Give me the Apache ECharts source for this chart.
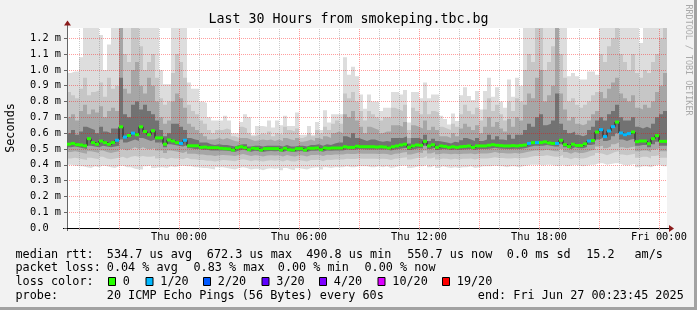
<!DOCTYPE html>
<html><head><meta charset="utf-8">
<script src="https://cdn.jsdelivr.net/npm/echarts@6/dist/echarts.min.js"></script>
<style>html,body{margin:0;padding:0;background:#f2f2f2}#c{width:697px;height:310px}</style>
</head><body><div id="c"></div>
<script>
// time axis in hours relative to Thu 00:00; 12-minute bins from Wed 18:24 to Fri 00:24
const startHour = -5.6;
const endHour = 24.4;
const binHours = 0.2;

// median rtt (ms) per bin
const median = [
 0.530,0.535,0.527,0.525,0.520,0.565,0.540,0.530,0.550,0.540,0.530,0.540,0.555,
 0.640,0.575,0.585,0.600,0.590,0.640,0.610,0.590,0.615,0.570,
 0.570,0.530,0.557,0.550,0.540,0.535,0.555,
 0.520,0.520,0.520,0.510,0.512,0.508,0.508,0.508,
 0.504,0.502,0.500,0.493,0.508,0.514,0.508,0.495,0.504,0.502,0.493,0.502,0.502,0.502,0.502,0.493,0.504,0.495,0.493,0.502,0.502,0.493,0.504,0.504,0.506,0.495,0.506,0.504,0.506,0.506,0.506,0.514,0.510,0.510,0.517,0.514,0.514,
 0.514,0.514,0.512,0.514,0.512,0.506,0.514,0.519,0.525,0.530,0.510,0.519,0.525,0.523,0.548,0.519,0.527,0.510,0.519,0.516,0.510,0.514,0.510,0.514,0.516,0.519,0.510,0.519,0.519,0.519,0.523,0.527,0.523,0.521,0.519,0.519,0.521,0.519,
 0.522,0.525,0.535,0.540,0.540,0.540,0.545,0.538,0.535,0.535,0.555,0.527,
 0.515,0.530,0.522,0.522,0.532,0.550,0.553,0.607,
 0.622,0.578,0.614,0.641,0.670,0.601,0.590,0.597,0.607,0.546,0.550,0.550,0.533,0.565,0.584,0.548,0.548
];
// lost pings (out of 20) per bin
const loss = [
 0,0,0,0,0,0,0,0,0,0,0,0,1,0,1,0,1,0,0,0,0,0,0,0,0,0,0,0,1,1,
 0,0,0,0,0,0,0,0,0,0,0,0,0,0,0,0,0,0,0,0,0,0,0,0,0,0,0,0,0,0,
 0,0,0,0,0,0,0,0,0,0,0,0,0,0,0,0,0,0,0,0,0,0,0,0,0,0,0,0,0,0,
 0,0,0,0,0,0,0,0,0,0,0,0,0,0,0,0,0,0,0,0,0,0,0,0,0,1,0,1,0,0,
 0,0,1,0,0,0,0,0,0,0,1,0,0,1,1,1,1,0,1,1,1,0,0,0,0,0,0,0,0,0
];
// smoke: ping distribution per bin (ms)
const maxV = [
 0.98,0.99,0.99,1.08,1.265,1.265,1.265,1.265,1.22,1.00,1.16,1.265,1.265,
 1.265,1.265,1.265,1.265,1.265,1.265,1.265,1.265,1.265,1.265,
 1.00,0.91,0.91,1.265,1.265,1.265,1.265,
 0.92,0.88,0.88,0.80,0.79,0.70,0.68,0.68,
 0.68,0.71,0.68,0.60,0.60,0.67,0.72,0.70,0.59,0.645,0.645,0.64,0.68,0.635,0.68,0.65,0.71,0.645,0.645,0.73,0.59,0.59,0.645,0.59,0.67,0.62,0.745,0.667,0.72,0.72,0.72,1.08,0.97,1.02,0.96,0.845,0.755,
 0.845,0.80,0.80,0.74,0.76,0.76,0.86,0.86,0.845,0.873,0.667,0.86,0.86,0.82,0.92,0.82,0.845,0.845,0.71,0.69,0.655,0.725,0.677,0.84,0.89,0.835,0.81,0.866,0.75,0.866,0.95,0.83,0.89,0.80,0.76,0.94,0.83,0.95,
 0.90,1.265,1.265,1.265,1.265,1.265,1.265,1.265,1.265,1.265,1.265,1.265,
 0.96,0.98,0.96,0.94,0.94,0.99,0.99,0.97,
 1.265,1.265,1.265,1.265,1.265,1.265,1.265,1.265,1.265,1.265,1.17,1.265,1.265,1.265,1.265,1.265,1.265
];
const p90 = [
 0.86,0.84,0.82,0.88,0.95,0.84,0.86,0.87,0.92,0.83,0.95,0.88,0.90,
 1.265,1.10,1.05,1.265,1.265,1.15,1.00,1.05,1.10,0.95,
 0.82,0.78,0.80,0.98,1.10,1.05,0.95,
 0.78,0.74,0.72,0.68,0.66,0.62,0.60,0.62,
 0.62,0.63,0.62,0.58,0.57,0.64,0.63,0.60,0.58,0.59,0.60,0.59,0.61,0.58,0.60,0.59,0.64,0.62,0.61,0.63,0.57,0.58,0.60,0.58,0.62,0.60,0.64,0.62,0.66,0.68,0.66,
 0.85,0.82,0.86,0.80,0.74,0.68,
 0.74,0.72,0.70,0.68,0.70,0.70,0.76,0.75,0.74,0.78,0.62,0.76,0.74,0.72,0.80,0.72,0.74,0.73,0.64,0.63,0.62,0.66,0.64,0.72,0.78,0.74,0.72,0.76,0.68,0.75,0.82,0.74,0.78,0.72,0.68,0.80,0.74,0.82,
 0.80,1.00,1.10,1.05,1.265,1.265,1.00,1.05,1.15,1.265,1.10,0.95,
 0.80,0.82,0.78,0.76,0.78,0.80,0.84,0.86,
 1.10,1.05,1.15,1.20,1.265,1.10,1.05,1.00,1.10,0.98,0.95,1.00,0.98,1.05,1.10,1.20,1.265
];
const p75 = [
 0.70,0.72,0.68,0.74,0.78,0.72,0.75,0.73,0.77,0.70,0.74,0.76,0.74,
 1.265,0.88,0.85,1.00,1.05,0.90,0.85,0.95,0.90,0.80,
 0.70,0.66,0.68,0.80,0.85,0.82,0.76,
 0.66,0.64,0.62,0.60,0.58,0.56,0.56,0.57,
 0.56,0.57,0.56,0.55,0.545,0.57,0.57,0.56,0.55,0.555,0.56,0.555,0.56,0.55,0.56,0.55,0.57,0.56,0.555,0.57,0.545,0.55,0.56,0.55,0.57,0.56,0.58,0.57,0.60,0.61,0.60,
 0.72,0.70,0.74,0.68,0.64,0.60,
 0.64,0.63,0.62,0.60,0.61,0.61,0.65,0.65,0.64,0.67,0.57,0.65,0.64,0.63,0.68,0.62,0.64,0.62,0.58,0.58,0.57,0.60,0.58,0.63,0.66,0.64,0.62,0.65,0.60,0.64,0.70,0.64,0.67,0.63,0.61,0.69,0.64,0.70,
 0.68,0.78,0.85,0.82,0.95,1.00,0.80,0.84,0.90,1.265,0.85,0.75,
 0.68,0.70,0.66,0.65,0.66,0.68,0.72,0.74,
 0.86,0.82,0.88,0.92,0.95,0.85,0.82,0.80,0.84,0.76,0.75,0.78,0.76,0.80,0.86,0.90,0.98
];
const p60 = [
 0.60,0.62,0.59,0.61,0.64,0.63,0.62,0.60,0.64,0.61,0.60,0.63,0.63,
 0.95,0.72,0.70,0.78,0.80,0.75,0.78,0.74,0.72,0.68,
 0.62,0.58,0.60,0.66,0.66,0.64,0.62,
 0.57,0.56,0.555,0.54,0.54,0.53,0.525,0.53,
 0.525,0.525,0.52,0.515,0.525,0.53,0.53,0.515,0.52,0.52,0.515,0.52,0.52,0.52,0.52,0.515,0.525,0.515,0.515,0.52,0.52,0.515,0.525,0.525,0.53,0.52,0.53,0.525,0.535,0.54,0.54,
 0.58,0.57,0.60,0.57,0.56,0.55,
 0.56,0.56,0.55,0.545,0.55,0.545,0.57,0.57,0.57,0.58,0.535,0.57,0.57,0.56,0.59,0.55,0.565,0.55,0.545,0.54,0.535,0.545,0.54,0.555,0.57,0.56,0.55,0.57,0.55,0.56,0.59,0.56,0.58,0.56,0.555,0.59,0.565,0.59,
 0.59,0.62,0.66,0.64,0.70,0.72,0.65,0.66,0.68,0.85,0.66,0.62,
 0.60,0.61,0.59,0.58,0.59,0.62,0.64,0.68,
 0.70,0.68,0.72,0.74,0.78,0.70,0.68,0.68,0.70,0.64,0.63,0.64,0.63,0.66,0.70,0.72,0.74
];
const p40 = [
 0.51,0.515,0.51,0.505,0.50,0.52,0.515,0.51,0.52,0.515,0.51,0.515,0.52,
 0.56,0.54,0.55,0.56,0.55,0.57,0.56,0.55,0.56,0.54,
 0.54,0.51,0.53,0.525,0.52,0.515,0.525,
 0.505,0.50,0.50,0.495,0.495,0.49,0.49,0.49,
 0.49,0.488,0.485,0.48,0.49,0.495,0.49,0.482,0.488,0.486,0.48,0.486,0.487,0.486,0.487,0.48,0.489,0.482,0.48,0.487,0.486,0.48,0.489,0.489,0.49,0.482,0.49,0.489,0.49,0.49,0.49,
 0.497,0.495,0.495,0.50,0.498,0.497,
 0.497,0.497,0.496,0.497,0.496,0.49,0.497,0.50,0.505,0.508,0.493,0.50,0.505,0.503,0.52,0.50,0.507,0.494,0.50,0.498,0.494,0.497,0.494,0.497,0.498,0.50,0.494,0.50,0.50,0.50,0.503,0.507,0.503,0.502,0.50,0.50,0.502,0.50,
 0.503,0.508,0.515,0.52,0.52,0.52,0.525,0.52,0.515,0.515,0.53,0.51,
 0.498,0.51,0.505,0.505,0.512,0.525,0.53,0.56,
 0.57,0.55,0.56,0.58,0.60,0.56,0.55,0.56,0.565,0.52,0.525,0.525,0.51,0.53,0.545,0.52,0.52
];
const p25 = [
 0.48,0.485,0.48,0.475,0.47,0.485,0.48,0.475,0.49,0.48,0.475,0.48,0.485,
 0.50,0.49,0.50,0.51,0.50,0.51,0.50,0.50,0.505,0.49,
 0.49,0.475,0.49,0.485,0.48,0.475,0.485,
 0.47,0.47,0.465,0.465,0.46,0.46,0.455,0.46,
 0.462,0.46,0.458,0.455,0.462,0.468,0.462,0.455,0.46,0.458,0.452,0.458,0.46,0.458,0.46,0.452,0.462,0.455,0.452,0.46,0.458,0.452,0.462,0.462,0.464,0.455,0.464,0.462,0.465,0.465,0.465,
 0.47,0.468,0.468,0.472,0.47,0.47,
 0.47,0.47,0.468,0.47,0.468,0.462,0.47,0.472,0.478,0.48,0.465,0.472,0.478,0.475,0.49,0.472,0.48,0.466,0.472,0.47,0.466,0.47,0.466,0.47,0.47,0.472,0.466,0.472,0.472,0.472,0.475,0.48,0.475,0.474,0.472,0.472,0.474,0.472,
 0.475,0.48,0.485,0.49,0.49,0.49,0.495,0.49,0.485,0.485,0.50,0.48,
 0.47,0.48,0.475,0.475,0.48,0.49,0.495,0.515,
 0.52,0.505,0.515,0.53,0.54,0.51,0.505,0.51,0.515,0.485,0.49,0.49,0.48,0.495,0.505,0.485,0.485
];
const p10 = [
 0.44,0.445,0.44,0.435,0.43,0.445,0.44,0.435,0.45,0.44,0.435,0.44,0.445,
 0.45,0.44,0.45,0.455,0.45,0.455,0.45,0.45,0.455,0.44,
 0.445,0.435,0.445,0.44,0.44,0.435,0.445,
 0.435,0.435,0.43,0.43,0.425,0.425,0.42,0.425,
 0.43,0.428,0.426,0.422,0.43,0.435,0.43,0.422,0.428,0.426,0.42,0.426,0.428,0.426,0.428,0.42,0.43,0.422,0.42,0.428,0.426,0.42,0.43,0.43,0.432,0.422,0.432,0.43,0.433,0.433,0.433,
 0.438,0.436,0.436,0.44,0.438,0.438,
 0.438,0.438,0.436,0.438,0.436,0.43,0.438,0.44,0.445,0.448,0.433,0.44,0.445,0.443,0.455,0.44,0.447,0.434,0.44,0.438,0.434,0.438,0.434,0.438,0.438,0.44,0.434,0.44,0.44,0.44,0.443,0.447,0.443,0.442,0.44,0.44,0.442,0.44,
 0.442,0.445,0.45,0.455,0.455,0.455,0.46,0.455,0.45,0.45,0.462,0.445,
 0.435,0.445,0.44,0.44,0.445,0.455,0.46,0.475,
 0.47,0.46,0.47,0.48,0.485,0.465,0.46,0.465,0.47,0.445,0.45,0.45,0.44,0.455,0.46,0.445,0.445
];
const minV = [
 0.40,0.395,0.39,0.39,0.385,0.38,0.39,0.385,0.395,0.39,0.385,0.38,0.39,
 0.395,0.385,0.385,0.375,0.37,0.37,0.39,0.395,0.38,0.385,
 0.385,0.38,0.39,0.385,0.39,0.395,0.39,
 0.39,0.385,0.385,0.38,0.38,0.375,0.37,0.385,
 0.385,0.38,0.375,0.37,0.38,0.385,0.38,0.37,0.375,0.375,0.365,0.375,0.378,0.375,0.378,0.365,0.38,0.37,0.365,0.378,0.375,0.37,0.38,0.382,0.385,0.37,0.385,0.38,0.385,0.385,0.385,
 0.39,0.385,0.385,0.39,0.39,0.39,
 0.385,0.385,0.39,0.385,0.39,0.38,0.385,0.39,0.395,0.395,0.38,0.385,0.39,0.39,0.40,0.385,0.395,0.38,0.39,0.385,0.38,0.385,0.38,0.385,0.385,0.39,0.38,0.385,0.39,0.39,0.39,0.395,0.39,0.39,0.385,0.39,0.39,0.385,
 0.39,0.395,0.40,0.40,0.40,0.395,0.40,0.40,0.395,0.39,0.40,0.39,
 0.395,0.40,0.395,0.39,0.395,0.40,0.40,0.41,
 0.41,0.40,0.405,0.41,0.41,0.40,0.395,0.40,0.405,0.385,0.39,0.39,0.385,0.395,0.40,0.39,0.39
];

// axis ticks and labels
const yMax = 1.265;
const yInterval = 0.1;
const xTickHours = [-5,-4,-3,-2,-1,0,1,2,3,4,5,6,7,8,9,10,11,12,13,14,15,16,17,18,19,20,21,22,23,24];
const xMajorHours = [-3,0,3,6,9,12,15,18,21,24];
const xLabelHours = [0,6,12,18,24];
const xLabelText = ['Thu 00:00','Thu 06:00','Thu 12:00','Thu 18:00','Fri 00:00'];

// legend text
const titleText = 'Last 30 Hours from smokeping.tbc.bg';
const rttStats = ['534.7 us avg','672.3 us max','490.8 us min','550.7 us now','0.0 ms sd','15.2','am/s'];
const lossStats = ['0.04 % avg','0.83 % max','0.00 % min','0.00 % now'];
const lossLabels = ['0','1/20','2/20','3/20','4/20','10/20','19/20'];
const lossLegendColors = ['#26ff00','#00b8ff','#0059ff','#5e00ff','#7e00ff','#dd00ff','#ff0000'];
const probeText = '20 ICMP Echo Pings (56 Bytes) every 60s';
const endText = 'end: Fri Jun 27 00:23:45 2025';

const MONO = "'DejaVu Sans Mono', monospace";
const RED_GRID = 'rgba(255,0,0,0.38)';
const GREY_GRID = 'rgba(128,128,128,0.40)';
const lossColorOf = n => n === 0 ? '#26ff00' : '#00b8ff';

function stepData(arr) {
  const d = arr.map((v, i) => [startHour + i * binHours, v]);
  d.push([endHour, arr[arr.length - 1]]);
  return d;
}

const layers = [
  [maxV, '#dddddd'], [p90, '#c6c6c6'], [p75, '#a6a6a6'], [p60, '#727272'],
  [p40, '#a6a6a6'], [p25, '#c6c6c6'], [p10, '#dddddd'], [minV, '#ffffff']
];
const series = layers.map(([arr, c]) => ({
  type: 'line', step: 'end', data: stepData(arr), symbol: 'none', showSymbol: false,
  lineStyle: { width: 0, opacity: 0 }, areaStyle: { color: c, opacity: 1 },
  silent: true, z: 2, clip: true
}));
// vertical grid lines (hourly grey, 3-hourly red), drawn over the smoke
const halfPx = 0.5 * (endHour - startHour) / 600;
series.push({
  type: 'line', data: [], silent: true, z: 6, symbol: 'none',
  markLine: {
    silent: true, symbol: ['none', 'none'], label: { show: false }, animation: false,
    emphasis: { disabled: true },
    data: xTickHours.map(h => ({
      xAxis: h + halfPx,
      lineStyle: { color: xMajorHours.indexOf(h) >= 0 ? RED_GRID : GREY_GRID, type: [1, 1], width: 1, opacity: 1 }
    }))
  }
});
series.push({
  type: 'line', step: 'end', data: stepData(median), symbol: 'none', showSymbol: false,
  lineStyle: { color: '#1e1e1e', width: 1 }, silent: true, z: 8
});
series.push({
  type: 'custom', z: 9, silent: true,
  data: median.map((v, i) => [startHour + i * binHours, startHour + (i + 1) * binHours, v, loss[i]]),
  encode: { x: [0, 1], y: 2 },
  renderItem(params, api) {
    const p0 = api.coord([api.value(0), api.value(2)]);
    const p1 = api.coord([api.value(1), api.value(2)]);
    return { type: 'rect', shape: { x: p0[0], y: p0[1] - 1.5, width: p1[0] - p0[0], height: 3 },
             style: { fill: lossColorOf(api.value(3)) } };
  }
});

// frame, axis extensions, arrows and texts
const g = [];
g.push({ type: 'rect', shape: { x: 0, y: 307, width: 697, height: 3 }, style: { fill: '#a2a2a2' } });
g.push({ type: 'rect', shape: { x: 694, y: 0, width: 3, height: 310 }, style: { fill: '#a2a2a2' } });
g.push({ type: 'line', shape: { x1: 67.5, y1: 28, x2: 67.5, y2: 23 }, style: { stroke: '#666', lineWidth: 1 } });
g.push({ type: 'line', shape: { x1: 67.5, y1: 228, x2: 67.5, y2: 231 }, style: { stroke: '#666', lineWidth: 1 } });
g.push({ type: 'polygon', shape: { points: [[64, 25.5], [71, 25.5], [67.5, 20.5]] }, style: { fill: '#8b1c1c' } });
g.push({ type: 'line', shape: { x1: 63, y1: 228.5, x2: 67, y2: 228.5 }, style: { stroke: '#000', lineWidth: 1 } });
g.push({ type: 'line', shape: { x1: 667, y1: 228.5, x2: 670, y2: 228.5 }, style: { stroke: '#000', lineWidth: 1 } });
g.push({ type: 'polygon', shape: { points: [[669, 225], [669, 232], [674, 228.5]] }, style: { fill: '#8b1c1c' } });
const txt = (text, x, y, size, extra) => Object.assign({ type: 'text', x, y, silent: true,
  style: Object.assign({ text, font: size + 'px ' + MONO, fill: '#000', align: 'left', verticalAlign: 'middle' }, (extra && extra.style) || {}) },
  extra && extra.rotation !== undefined ? { rotation: extra.rotation } : {});
g.push(txt(titleText, 348.5, 20, 13.3, { style: { align: 'center' } }));
g.push(txt('Seconds', 11, 128, 11.8, { rotation: Math.PI / 2, style: { align: 'center' } }));
g.push(txt('RRDTOOL / TOBI OETIKER', 688.5, 60, 8.4, { rotation: -Math.PI / 2, style: { align: 'center', fill: '#a9a9a9' } }));
// line 1
g.push(txt('median rtt:', 15.5, 254.5, 11.8));
const rttX = [106.8, 206.8, 306.2, 407.2, 506.8, 586.2, 634.5];
rttStats.forEach((s, i) => g.push(txt(s, rttX[i], 254.5, 11.8)));
// line 2
g.push(txt('packet loss:', 15.5, 268.3, 11.8));
const lossX = [106.8, 193.5, 277.8, 364.5];
lossStats.forEach((s, i) => g.push(txt(s, lossX[i], 268.3, 11.8)));
// line 3
g.push(txt('loss color:', 15.5, 281.7, 11.8));
const boxX = [108, 145.5, 203, 261.5, 319, 377.5, 442];
lossLabels.forEach((s, i) => {
  g.push({ type: 'rect', shape: { x: boxX[i] + 0.5, y: 277.5, width: 7, height: 8 },
           style: { fill: lossLegendColors[i], stroke: '#000', lineWidth: 1 } });
  g.push(txt(s, boxX[i] + 14.8, 281.7, 11.8));
});
// line 4
g.push(txt('probe:', 15.5, 295.8, 11.8));
g.push(txt(probeText, 106.8, 295.8, 11.8));
g.push(txt(endText, 477.8, 295.8, 11.8));

const chart = echarts.init(document.getElementById('c'), null, { renderer: 'canvas' });
chart.setOption({
  animation: false,
  backgroundColor: '#f2f2f2',
  textStyle: { fontFamily: MONO },
  grid: { left: 67, top: 28, width: 600, height: 200, containLabel: false, outerBoundsMode: 'none',
          show: true, backgroundColor: '#ffffff', borderWidth: 0 },
  xAxis: {
    type: 'value', min: startHour, max: endHour, z: 5,
    axisLine: { show: true, onZero: false, lineStyle: { color: '#000', width: 1 } },
    axisTick: { show: true, customValues: xTickHours, length: 2, lineStyle: { color: '#b89090' } },
    axisLabel: { customValues: xLabelHours, formatter: v => xLabelText[xLabelHours.indexOf(Math.round(v))] || '',
                 fontFamily: MONO, fontSize: 10.3, color: '#000', margin: 4 },
    splitLine: { show: false }
  },
  yAxis: {
    type: 'value', min: 0, max: yMax, interval: yInterval, z: 5,
    axisLine: { show: true, onZero: false, lineStyle: { color: '#666', width: 1 } },
    axisTick: { show: true, length: 3, lineStyle: { color: '#666' } },
    axisLabel: { showMaxLabel: false, formatter: v => v < 0.05 ? '0.0' : v.toFixed(1) + ' m',
                 align: 'left', margin: 37, fontFamily: MONO, fontSize: 10.3, color: '#000' },
    splitLine: { show: true, showMinLine: false, showMaxLine: false,
                 lineStyle: { color: RED_GRID, type: [1, 1], width: 1, opacity: 1 } }
  },
  graphic: g,
  series
});
</script></body></html>
